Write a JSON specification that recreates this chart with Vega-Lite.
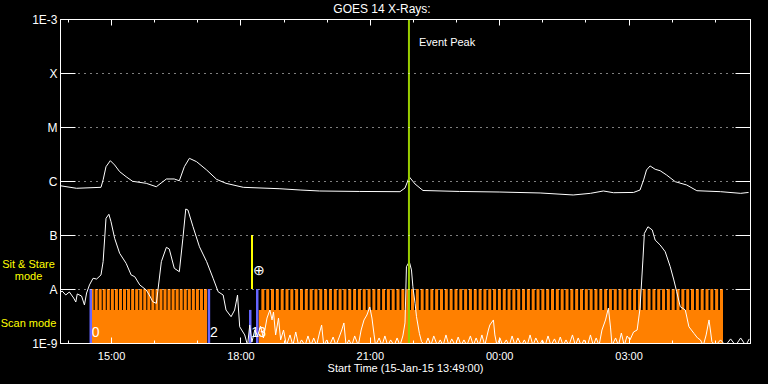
{
"$schema":"https://vega.github.io/schema/vega-lite/v6.json",
"width":690,"height":324,
"autosize":{"type":"none"},
"padding":{"left":60,"top":19,"right":18,"bottom":41},
"background":"black",
"title":{"text":"GOES 14 X-Rays:","color":"white","font":"Liberation Sans","fontSize":12,"fontWeight":"normal","anchor":"middle","frame":"group","dx":-23,"offset":-3},
"config":{
"view":{"stroke":"white","strokeWidth":1},
"axis":{"labelFont":"Liberation Sans","labelFontSize":11,"labelColor":"white","domainColor":"white","tickColor":"white","gridColor":"white","gridOpacity":1,"titleColor":"white","titleFont":"Liberation Sans","titleFontWeight":"normal","titleFontSize":11,"labelFlush":false}
},
"datasets":{
"scan":[{"s":"2015-01-15T14:32:54","e":"2015-01-15T17:13:30"},{"s":"2015-01-15T18:25:30","e":"2015-01-16T05:10:06"}],
"scanbars":[
{"t":"2015-01-15T14:33:42"},{"t":"2015-01-15T14:39:20"},{"t":"2015-01-15T14:44:58"},{"t":"2015-01-15T14:50:36"},{"t":"2015-01-15T14:56:14"},{"t":"2015-01-15T15:01:52"},{"t":"2015-01-15T15:07:30"},{"t":"2015-01-15T15:13:08"},{"t":"2015-01-15T15:18:46"},{"t":"2015-01-15T15:24:24"},{"t":"2015-01-15T15:30:02"},{"t":"2015-01-15T15:35:40"},{"t":"2015-01-15T15:41:18"},{"t":"2015-01-15T15:46:56"},{"t":"2015-01-15T15:52:34"},{"t":"2015-01-15T15:58:12"},{"t":"2015-01-15T16:03:50"},{"t":"2015-01-15T16:09:28"},{"t":"2015-01-15T16:15:06"},{"t":"2015-01-15T16:20:44"},{"t":"2015-01-15T16:26:22"},{"t":"2015-01-15T16:32:00"},{"t":"2015-01-15T16:37:38"},{"t":"2015-01-15T16:43:16"},{"t":"2015-01-15T16:48:54"},{"t":"2015-01-15T16:54:32"},{"t":"2015-01-15T17:00:10"},{"t":"2015-01-15T17:05:48"},{"t":"2015-01-15T17:11:26"},
{"t":"2015-01-15T18:31:14"},{"t":"2015-01-15T18:37:57"},{"t":"2015-01-15T18:44:40"},{"t":"2015-01-15T18:51:23"},{"t":"2015-01-15T18:58:06"},{"t":"2015-01-15T19:04:49"},{"t":"2015-01-15T19:11:32"},{"t":"2015-01-15T19:18:15"},{"t":"2015-01-15T19:24:58"},{"t":"2015-01-15T19:31:41"},{"t":"2015-01-15T19:38:24"},{"t":"2015-01-15T19:45:07"},{"t":"2015-01-15T19:51:50"},{"t":"2015-01-15T19:58:33"},{"t":"2015-01-15T20:05:16"},{"t":"2015-01-15T20:11:59"},{"t":"2015-01-15T20:18:42"},{"t":"2015-01-15T20:25:25"},{"t":"2015-01-15T20:32:08"},{"t":"2015-01-15T20:38:51"},{"t":"2015-01-15T20:45:34"},{"t":"2015-01-15T20:52:17"},{"t":"2015-01-15T20:59:00"},{"t":"2015-01-15T21:05:43"},{"t":"2015-01-15T21:12:26"},{"t":"2015-01-15T21:19:09"},{"t":"2015-01-15T21:25:52"},{"t":"2015-01-15T21:32:35"},{"t":"2015-01-15T21:39:18"},{"t":"2015-01-15T21:46:01"},{"t":"2015-01-15T21:52:44"},{"t":"2015-01-15T21:59:27"},{"t":"2015-01-15T22:06:10"},{"t":"2015-01-15T22:12:53"},{"t":"2015-01-15T22:19:36"},{"t":"2015-01-15T22:26:19"},{"t":"2015-01-15T22:33:02"},{"t":"2015-01-15T22:39:45"},{"t":"2015-01-15T22:46:28"},{"t":"2015-01-15T22:53:11"},{"t":"2015-01-15T22:59:54"},{"t":"2015-01-15T23:06:37"},{"t":"2015-01-15T23:13:20"},{"t":"2015-01-15T23:20:03"},{"t":"2015-01-15T23:26:46"},{"t":"2015-01-15T23:33:29"},{"t":"2015-01-15T23:40:12"},{"t":"2015-01-15T23:46:55"},{"t":"2015-01-15T23:53:38"},{"t":"2015-01-16T00:00:21"},{"t":"2015-01-16T00:07:04"},{"t":"2015-01-16T00:13:47"},{"t":"2015-01-16T00:20:30"},{"t":"2015-01-16T00:27:13"},{"t":"2015-01-16T00:33:56"},{"t":"2015-01-16T00:40:39"},{"t":"2015-01-16T00:47:22"},{"t":"2015-01-16T00:54:05"},{"t":"2015-01-16T01:00:48"},{"t":"2015-01-16T01:07:31"},{"t":"2015-01-16T01:14:14"},{"t":"2015-01-16T01:20:57"},{"t":"2015-01-16T01:27:40"},{"t":"2015-01-16T01:34:23"},{"t":"2015-01-16T01:41:06"},{"t":"2015-01-16T01:47:49"},{"t":"2015-01-16T01:54:32"},{"t":"2015-01-16T02:01:15"},{"t":"2015-01-16T02:07:58"},{"t":"2015-01-16T02:14:41"},{"t":"2015-01-16T02:21:24"},{"t":"2015-01-16T02:28:07"},{"t":"2015-01-16T02:34:50"},{"t":"2015-01-16T02:41:33"},{"t":"2015-01-16T02:48:16"},{"t":"2015-01-16T02:54:59"},{"t":"2015-01-16T03:01:42"},{"t":"2015-01-16T03:08:25"},{"t":"2015-01-16T03:15:08"},{"t":"2015-01-16T03:21:51"},{"t":"2015-01-16T03:28:34"},{"t":"2015-01-16T03:35:17"},{"t":"2015-01-16T03:42:00"},{"t":"2015-01-16T03:48:43"},{"t":"2015-01-16T03:55:26"},{"t":"2015-01-16T04:02:09"},{"t":"2015-01-16T04:08:52"},{"t":"2015-01-16T04:15:35"},{"t":"2015-01-16T04:22:18"},{"t":"2015-01-16T04:29:01"},{"t":"2015-01-16T04:35:44"},{"t":"2015-01-16T04:42:27"},{"t":"2015-01-16T04:49:10"},{"t":"2015-01-16T04:55:53"},{"t":"2015-01-16T05:02:36"},{"t":"2015-01-16T05:09:19"}],
"obs":[{"t":"2015-01-15T14:31:48","lo":1e-9,"hi":1e-8},{"t":"2015-01-15T17:16:12","lo":1e-9,"hi":1e-8},{"t":"2015-01-15T18:13:42","lo":1e-9,"hi":4.1e-9},{"t":"2015-01-15T18:23:24","lo":1e-9,"hi":1e-8}],
"sitstare":[{"t":"2015-01-15T18:16:06","lo":1e-8,"hi":1e-7}],
"peak":[{"t":"2015-01-15T21:54:30","lo":1e-9,"hi":1e-3,"label":"Event Peak","lv":3.6e-4}],
"notes":[{"t":"2015-01-15T14:31:48","v":1.5e-9,"label":"0"},{"t":"2015-01-15T17:16:12","v":1.5e-9,"label":"2"},{"t":"2015-01-15T18:13:42","v":1.5e-9,"label":"1"},{"t":"2015-01-15T18:23:24","v":1.5e-9,"label":"3"},{"t":"2015-01-15T18:16:06","v":2.15e-8,"label":"⊕"}],
"long":[{"t":"2015-01-15T13:49","v":8.18e-7},{"t":"2015-01-15T14:12","v":7.33e-7},{"t":"2015-01-15T14:46","v":7.64e-7},{"t":"2015-01-15T14:49","v":1.05e-6},{"t":"2015-01-15T14:53","v":1.84e-6},{"t":"2015-01-15T14:59","v":2.38e-6},{"t":"2015-01-15T15:05","v":1.98e-6},{"t":"2015-01-15T15:12","v":1.49e-6},{"t":"2015-01-15T15:21","v":1.2e-6},{"t":"2015-01-15T15:30","v":9.87e-7},{"t":"2015-01-15T15:49","v":9.06e-7},{"t":"2015-01-15T16:03","v":7.83e-7},{"t":"2015-01-15T16:17","v":1.09e-6},{"t":"2015-01-15T16:28","v":1.09e-6},{"t":"2015-01-15T16:35","v":1.01e-6},{"t":"2015-01-15T16:42","v":1.84e-6},{"t":"2015-01-15T16:49","v":2.63e-6},{"t":"2015-01-15T16:59","v":2.28e-6},{"t":"2015-01-15T17:13","v":1.6e-6},{"t":"2015-01-15T17:27","v":1.07e-6},{"t":"2015-01-15T17:40","v":9.06e-7},{"t":"2015-01-15T18:04","v":7.64e-7},{"t":"2015-01-15T18:55","v":7.19e-7},{"t":"2015-01-15T19:23","v":6.81e-7},{"t":"2015-01-15T19:50","v":6.53e-7},{"t":"2015-01-15T20:46","v":6.4e-7},{"t":"2015-01-15T21:42","v":6.34e-7},{"t":"2015-01-15T21:49","v":7.41e-7},{"t":"2015-01-15T21:55","v":1.19e-6},{"t":"2015-01-15T22:03","v":8.8e-7},{"t":"2015-01-15T22:14","v":6.67e-7},{"t":"2015-01-15T23:05","v":6.4e-7},{"t":"2015-01-16T00:01","v":6.25e-7},{"t":"2015-01-16T00:57","v":6.0e-7},{"t":"2015-01-16T01:43","v":5.51e-7},{"t":"2015-01-16T02:07","v":5.91e-7},{"t":"2015-01-16T02:25","v":6.53e-7},{"t":"2015-01-16T02:39","v":6.07e-7},{"t":"2015-01-16T03:07","v":6.14e-7},{"t":"2015-01-16T03:16","v":6.81e-7},{"t":"2015-01-16T03:21","v":1.05e-6},{"t":"2015-01-16T03:25","v":1.6e-6},{"t":"2015-01-16T03:30","v":1.9e-6},{"t":"2015-01-16T03:37","v":1.65e-6},{"t":"2015-01-16T03:44","v":1.55e-6},{"t":"2015-01-16T03:53","v":1.29e-6},{"t":"2015-01-16T04:05","v":9.7e-7},{"t":"2015-01-16T04:21","v":8.43e-7},{"t":"2015-01-16T04:35","v":6.61e-7},{"t":"2015-01-16T05:08","v":6.34e-7},{"t":"2015-01-16T05:36","v":5.91e-7},{"t":"2015-01-16T05:47","v":6.14e-7}],
"short":[{"t":"2015-01-15T13:49","v":8.43e-9},{"t":"2015-01-15T13:52","v":9.18e-9},{"t":"2015-01-15T13:57","v":7.74e-9},{"t":"2015-01-15T14:02","v":8.8e-9},{"t":"2015-01-15T14:08","v":6.81e-9},{"t":"2015-01-15T14:11","v":5.74e-9},{"t":"2015-01-15T14:13","v":8.1e-9},{"t":"2015-01-15T14:19","v":7.41e-9},{"t":"2015-01-15T14:23","v":5.06e-9},{"t":"2015-01-15T14:26","v":8.43e-9},{"t":"2015-01-15T14:30","v":1.19e-8},{"t":"2015-01-15T14:35","v":1.58e-8},{"t":"2015-01-15T14:40","v":1.53e-8},{"t":"2015-01-15T14:46","v":1.82e-8},{"t":"2015-01-15T14:49","v":3.21e-8},{"t":"2015-01-15T14:53","v":2.04e-7},{"t":"2015-01-15T14:57","v":2.42e-7},{"t":"2015-01-15T15:00","v":1.76e-7},{"t":"2015-01-15T15:05","v":8.69e-8},{"t":"2015-01-15T15:12","v":4.58e-8},{"t":"2015-01-15T15:21","v":2.99e-8},{"t":"2015-01-15T15:28","v":1.82e-8},{"t":"2015-01-15T15:33","v":1.69e-8},{"t":"2015-01-15T15:40","v":1.19e-8},{"t":"2015-01-15T15:49","v":9.57e-9},{"t":"2015-01-15T15:54","v":7.41e-9},{"t":"2015-01-15T15:58","v":5.82e-9},{"t":"2015-01-15T16:03","v":5.43e-9},{"t":"2015-01-15T16:05","v":8.9e-9},{"t":"2015-01-15T16:10","v":3.21e-8},{"t":"2015-01-15T16:17","v":5.91e-8},{"t":"2015-01-15T16:21","v":5.51e-8},{"t":"2015-01-15T16:28","v":2.42e-8},{"t":"2015-01-15T16:35","v":2.09e-8},{"t":"2015-01-15T16:40","v":8.69e-8},{"t":"2015-01-15T16:44","v":3.03e-7},{"t":"2015-01-15T16:47","v":2.9e-7},{"t":"2015-01-15T16:54","v":1.43e-7},{"t":"2015-01-15T17:03","v":6.06e-8},{"t":"2015-01-15T17:13","v":3.21e-8},{"t":"2015-01-15T17:22","v":1.58e-8},{"t":"2015-01-15T17:29","v":8.9e-9},{"t":"2015-01-15T17:36","v":7.74e-9},{"t":"2015-01-15T17:40","v":4.08e-9},{"t":"2015-01-15T17:47","v":3.07e-9},{"t":"2015-01-15T17:52","v":4.08e-9},{"t":"2015-01-15T17:56","v":7.74e-9},{"t":"2015-01-15T17:59","v":2.0e-9},{"t":"2015-01-15T18:06","v":1.41e-9},
{"t":"2015-01-15T18:10","v":9e-10},{"t":"2015-01-15T18:13","v":2.15e-9},{"t":"2015-01-15T18:16","v":1.04e-9},{"t":"2015-01-15T18:20","v":1.74e-9},{"t":"2015-01-15T18:24","v":1.35e-9},{"t":"2015-01-15T18:28","v":2.06e-9},{"t":"2015-01-15T18:32","v":1.24e-9},{"t":"2015-01-15T18:37","v":2.9e-9},{"t":"2015-01-15T18:41","v":4.08e-9},{"t":"2015-01-15T18:44","v":2.67e-9},{"t":"2015-01-15T18:46","v":3.75e-9},{"t":"2015-01-15T18:49","v":1.41e-9},{"t":"2015-01-15T18:53","v":2.9e-9},{"t":"2015-01-15T18:56","v":1.14e-9},{"t":"2015-01-15T19:00","v":1.74e-9},{"t":"2015-01-15T19:04","v":9e-10},{"t":"2015-01-15T19:09","v":1.41e-9},{"t":"2015-01-15T19:13","v":9e-10},{"t":"2015-01-15T19:17","v":1.6e-9},{"t":"2015-01-15T19:21","v":9e-10},{"t":"2015-01-15T19:25","v":1.14e-9},{"t":"2015-01-15T19:30","v":9e-10},{"t":"2015-01-15T19:34","v":1.35e-9},{"t":"2015-01-15T19:38","v":9e-10},{"t":"2015-01-15T19:42","v":1.24e-9},{"t":"2015-01-15T19:46","v":9e-10},{"t":"2015-01-15T19:50","v":1.53e-9},{"t":"2015-01-15T19:53","v":2.15e-9},{"t":"2015-01-15T19:56","v":9e-10},{"t":"2015-01-15T20:00","v":1.14e-9},{"t":"2015-01-15T20:04","v":9e-10},{"t":"2015-01-15T20:09","v":1.29e-9},{"t":"2015-01-15T20:13","v":9e-10},{"t":"2015-01-15T20:17","v":1.24e-9},{"t":"2015-01-15T20:21","v":1.74e-9},{"t":"2015-01-15T20:24","v":2.35e-9},{"t":"2015-01-15T20:27","v":9e-10},{"t":"2015-01-15T20:31","v":1.14e-9},{"t":"2015-01-15T20:35","v":9e-10},{"t":"2015-01-15T20:39","v":1.35e-9},{"t":"2015-01-15T20:44","v":9e-10},{"t":"2015-01-15T20:48","v":1.74e-9},{"t":"2015-01-15T20:52","v":2.67e-9},{"t":"2015-01-15T20:56","v":3.3e-9},{"t":"2015-01-15T21:00","v":4.64e-9},{"t":"2015-01-15T21:03","v":2.9e-9},{"t":"2015-01-15T21:06","v":1.41e-9},{"t":"2015-01-15T21:08","v":9e-10},{"t":"2015-01-15T21:13","v":1.24e-9},{"t":"2015-01-15T21:17","v":9e-10},{"t":"2015-01-15T21:21","v":1.35e-9},{"t":"2015-01-15T21:25","v":9e-10},{"t":"2015-01-15T21:29","v":1.14e-9},{"t":"2015-01-15T21:34","v":9e-10},{"t":"2015-01-15T21:38","v":1.24e-9},{"t":"2015-01-15T21:42","v":9e-10},{"t":"2015-01-15T21:46","v":1.35e-9},{"t":"2015-01-15T21:49","v":2.35e-9},{"t":"2015-01-15T21:51","v":2.59e-8},{"t":"2015-01-15T21:55","v":3.2e-8},{"t":"2015-01-15T21:58","v":2.25e-8},{"t":"2015-01-15T22:00","v":1.1e-8},{"t":"2015-01-15T22:03","v":5.43e-9},{"t":"2015-01-15T22:05","v":3.07e-9},{"t":"2015-01-15T22:09","v":1.51e-9},{"t":"2015-01-15T22:12","v":1.06e-9},
{"t":"2015-01-15T22:17","v":9e-10},{"t":"2015-01-15T22:21","v":1.24e-9},{"t":"2015-01-15T22:25","v":9e-10},{"t":"2015-01-15T22:29","v":1.35e-9},{"t":"2015-01-15T22:34","v":9e-10},{"t":"2015-01-15T22:38","v":1.14e-9},{"t":"2015-01-15T22:42","v":9e-10},{"t":"2015-01-15T22:46","v":1.41e-9},{"t":"2015-01-15T22:50","v":9e-10},{"t":"2015-01-15T22:54","v":1.19e-9},{"t":"2015-01-15T22:59","v":9e-10},{"t":"2015-01-15T23:03","v":1.29e-9},{"t":"2015-01-15T23:07","v":9e-10},{"t":"2015-01-15T23:11","v":1.14e-9},{"t":"2015-01-15T23:15","v":9e-10},{"t":"2015-01-15T23:20","v":1.35e-9},{"t":"2015-01-15T23:24","v":9e-10},{"t":"2015-01-15T23:28","v":1.24e-9},{"t":"2015-01-15T23:32","v":9e-10},{"t":"2015-01-15T23:36","v":1.41e-9},{"t":"2015-01-15T23:40","v":9e-10},{"t":"2015-01-15T23:45","v":1.74e-9},{"t":"2015-01-15T23:47","v":2.15e-9},{"t":"2015-01-15T23:52","v":2.67e-9},{"t":"2015-01-15T23:54","v":1.41e-9},{"t":"2015-01-15T23:57","v":9e-10},{"t":"2015-01-16T00:01","v":1.24e-9},{"t":"2015-01-16T00:05","v":9e-10},{"t":"2015-01-16T00:10","v":1.14e-9},{"t":"2015-01-16T00:14","v":9e-10},{"t":"2015-01-16T00:18","v":1.35e-9},{"t":"2015-01-16T00:22","v":9e-10},{"t":"2015-01-16T00:26","v":1.24e-9},{"t":"2015-01-16T00:31","v":9e-10},{"t":"2015-01-16T00:35","v":1.14e-9},{"t":"2015-01-16T00:39","v":9e-10},{"t":"2015-01-16T00:43","v":1.41e-9},{"t":"2015-01-16T00:47","v":9e-10},{"t":"2015-01-16T00:51","v":1.24e-9},{"t":"2015-01-16T00:56","v":9e-10},{"t":"2015-01-16T01:00","v":1.14e-9},{"t":"2015-01-16T01:04","v":9e-10},{"t":"2015-01-16T01:08","v":1.35e-9},{"t":"2015-01-16T01:12","v":9e-10},{"t":"2015-01-16T01:17","v":1.19e-9},{"t":"2015-01-16T01:21","v":9e-10},{"t":"2015-01-16T01:25","v":1.29e-9},{"t":"2015-01-16T01:29","v":9e-10},{"t":"2015-01-16T01:33","v":1.14e-9},{"t":"2015-01-16T01:37","v":9e-10},{"t":"2015-01-16T01:42","v":1.41e-9},{"t":"2015-01-16T01:46","v":9e-10},{"t":"2015-01-16T01:50","v":1.24e-9},{"t":"2015-01-16T01:54","v":9e-10},{"t":"2015-01-16T01:58","v":1.14e-9},{"t":"2015-01-16T02:03","v":9e-10},{"t":"2015-01-16T02:07","v":1.41e-9},{"t":"2015-01-16T02:11","v":9e-10},{"t":"2015-01-16T02:15","v":1.24e-9},{"t":"2015-01-16T02:19","v":9e-10},{"t":"2015-01-16T02:23","v":1.74e-9},{"t":"2015-01-16T02:28","v":2.67e-9},{"t":"2015-01-16T02:32","v":4.44e-9},{"t":"2015-01-16T02:35","v":1.9e-9},{"t":"2015-01-16T02:37","v":9e-10},{"t":"2015-01-16T02:42","v":1.24e-9},{"t":"2015-01-16T02:46","v":9e-10},{"t":"2015-01-16T02:50","v":1.53e-9},{"t":"2015-01-16T02:54","v":9e-10},{"t":"2015-01-16T02:58","v":1.35e-9},{"t":"2015-01-16T03:02","v":1.14e-9},{"t":"2015-01-16T03:07","v":1.6e-9},{"t":"2015-01-16T03:12","v":1.74e-9},{"t":"2015-01-16T03:16","v":4.39e-9},{"t":"2015-01-16T03:20","v":3.44e-8},{"t":"2015-01-16T03:22","v":1.07e-7},{"t":"2015-01-16T03:27","v":1.42e-7},{"t":"2015-01-16T03:33","v":1.24e-7},{"t":"2015-01-16T03:37","v":8.07e-8},{"t":"2015-01-16T03:44","v":6.53e-8},{"t":"2015-01-16T03:51","v":4.91e-8},{"t":"2015-01-16T03:58","v":2.59e-8},{"t":"2015-01-16T04:03","v":1.47e-8},{"t":"2015-01-16T04:07","v":8.9e-9},{"t":"2015-01-16T04:12","v":4.7e-9},{"t":"2015-01-16T04:19","v":4.08e-9},{"t":"2015-01-16T04:24","v":2.0e-9},{"t":"2015-01-16T04:31","v":1.51e-9},{"t":"2015-01-16T04:36","v":1.24e-9},{"t":"2015-01-16T04:40","v":1.14e-9},{"t":"2015-01-16T04:44","v":9e-10},{"t":"2015-01-16T04:48","v":1.41e-9},{"t":"2015-01-16T04:52","v":2.67e-9},{"t":"2015-01-16T04:56","v":1.06e-9},{"t":"2015-01-16T05:01","v":9e-10},{"t":"2015-01-16T05:08","v":1.14e-9},{"t":"2015-01-16T05:15","v":9e-10},{"t":"2015-01-16T05:22","v":1.19e-9},{"t":"2015-01-16T05:29","v":9e-10},{"t":"2015-01-16T05:36","v":1.24e-9},{"t":"2015-01-16T05:43","v":9e-10},{"t":"2015-01-16T05:48","v":1.19e-9}]
},
"layer":[
{"data":{"name":"scan"},"mark":{"type":"rect","color":"#ff8000"},
"encoding":{
"x":{"field":"s","type":"temporal","scale":{"domain":[{"year":2015,"month":1,"date":15,"hours":13,"minutes":49},{"year":2015,"month":1,"date":16,"hours":5,"minutes":49}]},
"axis":{"orient":"top","values":[{"year":2015,"month":1,"date":15,"hours":14},{"year":2015,"month":1,"date":15,"hours":15},{"year":2015,"month":1,"date":15,"hours":16},{"year":2015,"month":1,"date":15,"hours":17},{"year":2015,"month":1,"date":15,"hours":18},{"year":2015,"month":1,"date":15,"hours":19},{"year":2015,"month":1,"date":15,"hours":20},{"year":2015,"month":1,"date":15,"hours":21},{"year":2015,"month":1,"date":15,"hours":22},{"year":2015,"month":1,"date":15,"hours":23},{"year":2015,"month":1,"date":16,"hours":0},{"year":2015,"month":1,"date":16,"hours":1},{"year":2015,"month":1,"date":16,"hours":2},{"year":2015,"month":1,"date":16,"hours":3},{"year":2015,"month":1,"date":16,"hours":4},{"year":2015,"month":1,"date":16,"hours":5}],"tickSize":-3,"labels":false,"domain":false,"grid":false,"title":null,"zindex":1}},
"x2":{"field":"e"},
"y":{"datum":1e-9,"type":"quantitative","scale":{"type":"log","domain":[1e-9,1e-3]},"axis":null},
"y2":{"datum":4.1e-9}}},
{"data":{"name":"scanbars"},"mark":{"type":"rule","color":"#ff8000","strokeWidth":3},
"encoding":{
"x":{"field":"t","type":"temporal","scale":{"domain":[{"year":2015,"month":1,"date":15,"hours":13,"minutes":49},{"year":2015,"month":1,"date":16,"hours":5,"minutes":49}]},
"axis":{"orient":"top","values":[{"year":2015,"month":1,"date":15,"hours":15},{"year":2015,"month":1,"date":15,"hours":18},{"year":2015,"month":1,"date":15,"hours":21},{"year":2015,"month":1,"date":16,"hours":0},{"year":2015,"month":1,"date":16,"hours":3}],"tickSize":-6,"labels":false,"domain":true,"grid":false,"title":null,"zindex":1}},
"y":{"datum":1e-9,"type":"quantitative","scale":{"type":"log","domain":[1e-9,1e-3]},
"axis":{"orient":"left","values":[2.25e-9,2.84e-8],"labelExpr":"datum.value < 1e-8 ? 'Scan mode' : ['Sit & Stare','mode']","ticks":false,"domain":false,"grid":false,"labelPadding":32,"labelAlign":"center","labelColor":"#ffff00","labelLineHeight":12,"labelFontSize":11,"title":null}},
"y2":{"datum":1e-8}}},
{"data":{"name":"obs"},"mark":{"type":"rule","color":"#6666ff","strokeWidth":2.5},
"encoding":{
"x":{"field":"t","type":"temporal","scale":{"domain":[{"year":2015,"month":1,"date":15,"hours":13,"minutes":49},{"year":2015,"month":1,"date":16,"hours":5,"minutes":49}]},"axis":null},
"y":{"field":"lo","type":"quantitative","scale":{"type":"log","domain":[1e-9,1e-3]},"axis":null},
"y2":{"field":"hi"}}},
{"data":{"name":"sitstare"},"mark":{"type":"rule","color":"#ffff00","strokeWidth":2},
"encoding":{
"x":{"field":"t","type":"temporal","scale":{"domain":[{"year":2015,"month":1,"date":15,"hours":13,"minutes":49},{"year":2015,"month":1,"date":16,"hours":5,"minutes":49}]},"axis":null},
"y":{"field":"lo","type":"quantitative","scale":{"type":"log","domain":[1e-9,1e-3]},"axis":null},
"y2":{"field":"hi"}}},
{"data":{"name":"long"},"mark":{"type":"line","color":"white","strokeWidth":1,"clip":true},
"encoding":{
"x":{"field":"t","type":"temporal","scale":{"domain":[{"year":2015,"month":1,"date":15,"hours":13,"minutes":49},{"year":2015,"month":1,"date":16,"hours":5,"minutes":49}]},
"axis":{"orient":"bottom","values":[{"year":2015,"month":1,"date":15,"hours":15},{"year":2015,"month":1,"date":15,"hours":18},{"year":2015,"month":1,"date":15,"hours":21},{"year":2015,"month":1,"date":16,"hours":0},{"year":2015,"month":1,"date":16,"hours":3}],"format":"%H:%M","tickSize":-6,"labelPadding":13,"title":"Start Time (15-Jan-15 13:49:00)","titlePadding":1,"grid":false,"domain":true,"zindex":1}},
"y":{"field":"v","type":"quantitative","scale":{"type":"log","domain":[1e-9,1e-3]},
"axis":{"orient":"left","values":[1e-9,1e-8,1e-7,1e-6,1e-5,1e-4,1e-3],"labelExpr":"datum.value < 2e-9 ? '1E-9' : datum.value < 2e-8 ? 'A' : datum.value < 2e-7 ? 'B' : datum.value < 2e-6 ? 'C' : datum.value < 2e-5 ? 'M' : datum.value < 2e-4 ? 'X' : '1E-3'","tickSize":-15,"labelPadding":18,"labelFontSize":12,"grid":true,"gridDash":[1,5],"title":null,"zindex":1}}}},
{"data":{"name":"short"},"mark":{"type":"line","color":"white","strokeWidth":1,"clip":true},
"encoding":{
"x":{"field":"t","type":"temporal","scale":{"domain":[{"year":2015,"month":1,"date":15,"hours":13,"minutes":49},{"year":2015,"month":1,"date":16,"hours":5,"minutes":49}]},
"axis":{"orient":"bottom","values":[{"year":2015,"month":1,"date":15,"hours":14},{"year":2015,"month":1,"date":15,"hours":15},{"year":2015,"month":1,"date":15,"hours":16},{"year":2015,"month":1,"date":15,"hours":17},{"year":2015,"month":1,"date":15,"hours":18},{"year":2015,"month":1,"date":15,"hours":19},{"year":2015,"month":1,"date":15,"hours":20},{"year":2015,"month":1,"date":15,"hours":21},{"year":2015,"month":1,"date":15,"hours":22},{"year":2015,"month":1,"date":15,"hours":23},{"year":2015,"month":1,"date":16,"hours":0},{"year":2015,"month":1,"date":16,"hours":1},{"year":2015,"month":1,"date":16,"hours":2},{"year":2015,"month":1,"date":16,"hours":3},{"year":2015,"month":1,"date":16,"hours":4},{"year":2015,"month":1,"date":16,"hours":5}],"tickSize":-3,"labels":false,"domain":false,"grid":false,"title":null,"zindex":1}},
"y":{"field":"v","type":"quantitative","scale":{"type":"log","domain":[1e-9,1e-3]},
"axis":{"orient":"right","values":[1e-9,1e-8,1e-7,1e-6,1e-5,1e-4,1e-3],"tickSize":-15,"labels":false,"grid":false,"domain":true,"title":null,"zindex":1}}}},
{"data":{"name":"peak"},"mark":{"type":"rule","color":"#99cc00","strokeWidth":2},
"encoding":{
"x":{"field":"t","type":"temporal","scale":{"domain":[{"year":2015,"month":1,"date":15,"hours":13,"minutes":49},{"year":2015,"month":1,"date":16,"hours":5,"minutes":49}]},"axis":null},
"y":{"field":"lo","type":"quantitative","scale":{"type":"log","domain":[1e-9,1e-3]},"axis":null},
"y2":{"field":"hi"}}},
{"data":{"name":"peak"},"mark":{"type":"text","color":"white","font":"Liberation Sans","fontSize":11,"align":"left","baseline":"middle","dx":10},
"encoding":{
"x":{"field":"t","type":"temporal","scale":{"domain":[{"year":2015,"month":1,"date":15,"hours":13,"minutes":49},{"year":2015,"month":1,"date":16,"hours":5,"minutes":49}]},"axis":null},
"y":{"field":"lv","type":"quantitative","scale":{"type":"log","domain":[1e-9,1e-3]},"axis":null},
"text":{"field":"label"}}},
{"data":{"name":"notes"},"mark":{"type":"text","color":"white","font":"Liberation Sans","fontSize":14,"align":"left","baseline":"middle","dx":1},
"encoding":{
"x":{"field":"t","type":"temporal","scale":{"domain":[{"year":2015,"month":1,"date":15,"hours":13,"minutes":49},{"year":2015,"month":1,"date":16,"hours":5,"minutes":49}]},"axis":null},
"y":{"field":"v","type":"quantitative","scale":{"type":"log","domain":[1e-9,1e-3]},"axis":null},
"text":{"field":"label"}}}
],
"resolve":{"axis":{"x":"independent","y":"independent"}}
}
